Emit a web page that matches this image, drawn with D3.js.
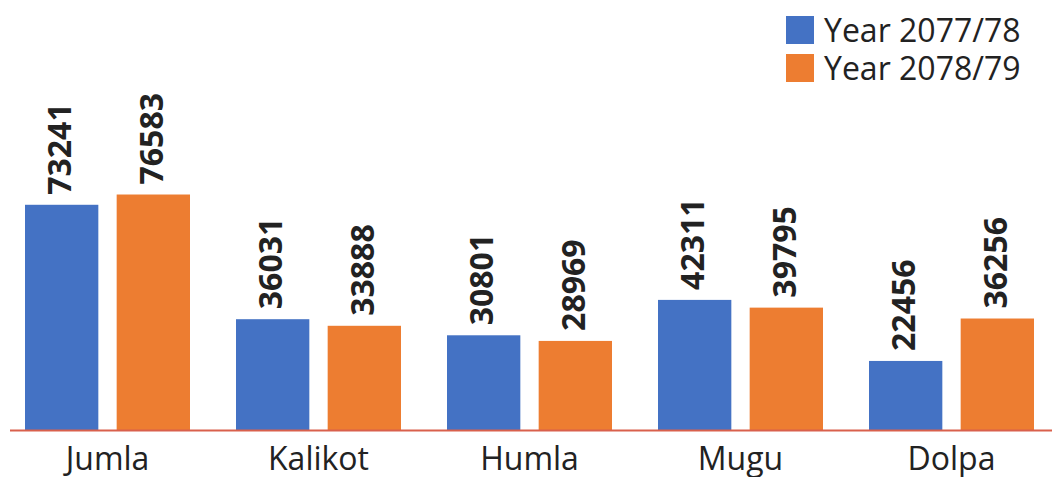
<!DOCTYPE html>
<html>
<head>
<meta charset="utf-8">
<script src="https://cdn.jsdelivr.net/npm/d3@7"></script>
<style>
  body { margin: 0; background: #fff; }
  svg text { font-family: "Open Sans", "Noto Sans", sans-serif; fill: #222; }
</style>
</head>
<body>
<svg id="chart" width="1052" height="477"></svg>
<script>
  // data
  let districts = ["Jumla", "Kalikot", "Humla", "Mugu", "Dolpa"];
  let years = ["Year 2077/78", "Year 2078/79"];
  let y2077 = [73241, 36031, 30801, 42311, 22456];
  let y2078 = [76583, 33888, 28969, 39795, 36256];
  let colors = ["#4472c4", "#ed7d31"];

  let svg = d3.select("svg#chart");
  let width = +svg.attr("width");

  let rows = districts.map((d, i) => ({ name: d, vals: [y2077[i], y2078[i]] }));

  // scales
  let x0 = d3.scaleBand().domain(districts).range([2, 1057]).paddingInner(0.218).paddingOuter(0.109);
  let x1 = d3.scaleBand().domain([0, 1]).range([0, x0.bandwidth()]).paddingInner(0.2);
  let y = d3.scaleLinear().domain([0, 80000]).range([430, 184]);

  let groups = svg.selectAll("g.grp")
    .data(rows)
    .join("g")
    .attr("class", "grp")
    .attr("transform", d => "translate(" + x0(d.name) + ",0)");

  groups.selectAll("rect")
    .data(d => d.vals.map((v, k) => ({ k: k, v: v })))
    .join("rect")
    .attr("x", d => x1(d.k))
    .attr("width", x1.bandwidth())
    .attr("y", d => y(d.v))
    .attr("height", d => y(0) - y(d.v))
    .attr("fill", d => colors[d.k]);

  // value labels, rotated
  groups.selectAll("text.val")
    .data(d => d.vals.map((v, k) => ({ k: k, v: v })))
    .join("text")
    .attr("class", "val")
    .attr("transform", d => "translate(" + (x1(d.k) + x1.bandwidth() / 2) + "," + (y(d.v) - 10) + ") rotate(-90)")
    .attr("dy", "0.3em")
    .attr("font-size", 32)
    .attr("font-weight", "bold")
    .text(d => d.v);

  // baseline
  svg.append("line")
    .attr("x1", 10).attr("x2", width)
    .attr("y1", y(0) + 0.5).attr("y2", y(0) + 0.5)
    .attr("stroke", "#d9604c")
    .attr("stroke-width", 2);

  // x axis labels
  let xAxis = svg.append("g")
    .attr("transform", "translate(0," + y(0) + ")")
    .call(d3.axisBottom(x0).tickSize(0).tickPadding(17));
  xAxis.select(".domain").remove();
  xAxis.selectAll("text")
    .attr("font-size", 32)
    .attr("fill", "#222")
    .attr("font-family", "'Open Sans', 'Noto Sans', sans-serif");

  // legend
  let legend = svg.append("g").attr("transform", "translate(786,16)");
  let li = legend.selectAll("g")
    .data(years)
    .join("g")
    .attr("transform", (d, i) => "translate(0," + (i * 38) + ")");
  li.append("rect")
    .attr("width", 28).attr("height", 28)
    .attr("fill", (d, i) => colors[i]);
  li.append("text")
    .attr("x", 38).attr("y", 26)
    .attr("font-size", 32)
    .text(d => d);
</script>
</body>
</html>
